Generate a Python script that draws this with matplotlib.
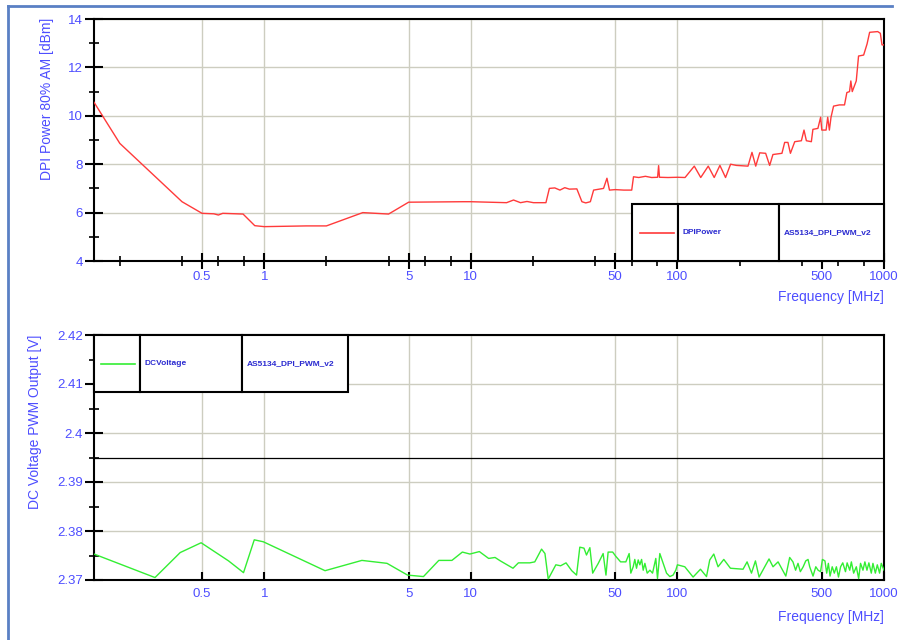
import matplotlib
matplotlib.use("Agg")
import matplotlib.pyplot as plt
from matplotlib.ticker import FixedLocator, FixedFormatter, NullFormatter
from matplotlib.lines import Line2D
from matplotlib.patches import Rectangle

plt.rcParams['font.family'] = ['Liberation Sans', 'DejaVu Sans']

# ---- measured data -------------------------------------------------------
power_freq = [0.15, 0.2, 0.4, 0.5, 0.57, 0.6, 0.63, 0.79, 0.9, 1.0, 1.6, 2.0,
              3.0, 4.0, 5.0, 9.2, 10, 14.9, 16.1, 17.4, 18.7, 20.1, 23.1, 24.0,
              25.5, 27, 28.5, 30, 32.6, 34.5, 36, 37.9, 39.3, 43.9, 45.6, 46.9,
              50, 55, 60.1, 61.3, 65, 70, 75, 80.2, 81.1, 81.9, 90, 100, 108.9,
              120.7, 129.7, 141, 150.7, 160.6, 171, 180.9, 193, 219.6, 229.6,
              239.4, 250.3, 267.4, 279.6, 290, 320.6, 330.5, 342.8, 352.4,
              369.8, 398.2, 410, 421, 445, 452.8, 478.7, 493.5, 500, 524.5, 534,
              544, 554, 570, 608, 644, 661, 681, 691, 702, 734, 753, 797, 828,
              852, 932, 960, 978, 1000]
power_dbm = [10.56, 8.86, 6.45, 5.97, 5.95, 5.90, 5.97, 5.94, 5.46, 5.42, 5.45,
             5.45, 6.00, 5.94, 6.43, 6.45, 6.45, 6.41, 6.52, 6.41, 6.46, 6.41,
             6.41, 7.00, 7.02, 6.93, 7.03, 6.97, 6.98, 6.45, 6.40, 6.45, 6.93,
             7.00, 7.42, 6.93, 6.95, 6.93, 6.93, 7.48, 7.45, 7.50, 7.45, 7.46,
             7.94, 7.46, 7.45, 7.46, 7.45, 7.92, 7.45, 7.92, 7.45, 7.95, 7.45,
             8.00, 7.95, 7.92, 8.49, 7.92, 8.47, 8.45, 7.95, 8.40, 8.45, 8.90,
             8.90, 8.45, 8.93, 8.97, 9.41, 8.97, 8.93, 9.44, 9.48, 9.94, 9.41,
             9.41, 9.94, 9.41, 9.94, 10.40, 10.45, 10.45, 10.96, 11.00, 11.44,
             11.00, 11.44, 12.47, 12.51, 12.97, 13.45, 13.48, 13.41, 12.93,
             12.93]

volt_freq = [0.15, 0.296, 0.392, 0.495, 0.672, 0.794, 0.895, 0.99, 1.97, 2.97,
             3.93, 4.94, 5.9, 7.0, 8.1, 9.1, 9.9, 11.0, 12.2, 13.1, 13.9, 16.0,
             17.0, 19.3, 20.4, 22.0, 22.85, 23.7, 25.8, 27.2, 28.9, 30.8, 32.5,
             33.7, 35.3, 36.3, 37.7, 38.9, 41.4, 43.7, 45.1, 46.2, 48.6, 50.4,
             53.1, 56.3, 58.4, 59.5, 61.1, 62.2, 63.4, 64.6, 65.8, 67.1, 68.3,
             69.6, 71.4, 73.6, 75.8, 78.6, 80.1, 82.2, 85.3, 88.6, 91.9, 95.3,
             98.2, 100, 108.6, 119.1, 129.3, 138.3, 143.4, 150, 157.3, 167.7,
             180.6, 207.8, 217.4, 228.3, 238.6, 248.5, 264.5, 277.7, 290.3,
             307.1, 334.8, 349.5, 362.5, 373.3, 383.5, 393.6, 406.3, 418.0,
             428.9, 436.9, 453.4, 467.6, 479.7, 493.0, 503.4, 517.8, 528.0,
             537.9, 548.1, 561.5, 574.7, 588.3, 602.2, 616.6, 631.6, 650.9,
             663.1, 682.6, 695, 713, 734.5, 754, 770, 791, 808, 827, 845, 868,
             884, 908, 928, 952, 970, 1000]
volt_v = [2.3753, 2.3705, 2.3756, 2.3776, 2.3739, 2.3715, 2.3782, 2.3778,
          2.3719, 2.3740, 2.3734, 2.3710, 2.3707, 2.3740, 2.3740, 2.3757,
          2.3753, 2.3758, 2.3744, 2.3746, 2.3739, 2.3724, 2.3735, 2.3735,
          2.3737, 2.3763, 2.3754, 2.3702, 2.3731, 2.3729, 2.3735, 2.3719,
          2.3710, 2.3767, 2.3765, 2.3751, 2.3766, 2.3714, 2.3734, 2.3754,
          2.3710, 2.3757, 2.3757, 2.3748, 2.3737, 2.3737, 2.3754, 2.3714,
          2.3727, 2.3742, 2.3724, 2.3741, 2.3731, 2.3742, 2.3720, 2.3734,
          2.3714, 2.3720, 2.3714, 2.3744, 2.3703, 2.3754, 2.3734, 2.3714,
          2.3707, 2.3710, 2.3720, 2.3731, 2.3727, 2.3706, 2.3722, 2.3707,
          2.3741, 2.3753, 2.3727, 2.3742, 2.3724, 2.3722, 2.3737, 2.3714,
          2.3739, 2.3706, 2.3727, 2.3743, 2.3727, 2.3737, 2.3708, 2.3746,
          2.3737, 2.3720, 2.3734, 2.3717, 2.3727, 2.3739, 2.3742, 2.3727,
          2.3708, 2.3727, 2.3720, 2.3717, 2.3742, 2.3739, 2.3714, 2.3734,
          2.3708, 2.3727, 2.3714, 2.3727, 2.3706, 2.3727, 2.3735, 2.3717,
          2.3735, 2.3720, 2.3737, 2.3714, 2.3727, 2.3703, 2.3734, 2.3720,
          2.3737, 2.3720, 2.3735, 2.3714, 2.3734, 2.3714, 2.3731, 2.3714,
          2.3734, 2.3720]
volt_limit = 2.395

major_freq = [0.5, 1, 5, 10, 50, 100, 500, 1000]
major_freq_labels = ['0.5', '1', '5', '10', '50', '100', '500', '1000']
minor_freq = [0.2, 0.4, 0.6, 0.8, 2, 4, 6, 8, 20, 40, 60, 80,
              200, 400, 600, 800]
power_ticks = [4, 6, 8, 10, 12, 14]
power_minor = [5, 7, 9, 11, 13]
volt_ticks = [2.37, 2.38, 2.39, 2.40, 2.41, 2.42]
volt_tick_labels = ['2.37', '2.38', '2.39', '2.4', '2.41', '2.42']
volt_minor = [2.375, 2.385, 2.395, 2.405, 2.415]

power_name, volt_name, source_name = 'DPIPower', 'DCVoltage', 'AS5134_DPI_PWM_v2'

# ---- styling ---------------------------------------------------------------
W, H = 902, 640
BLUE = '#4d4dff'
LEG_BLUE = '#2a2ad0'
GRID = '#cdcdc0'
RED = '#ff3a3a'
GREEN = '#33ee33'

fig = plt.figure(figsize=(W / 100, H / 100), dpi=100)
fig.patch.set_facecolor('white')


def px_axes(left, top, right, bottom):
    return fig.add_axes([left / W, 1 - bottom / H, (right - left) / W,
                         (bottom - top) / H])


ax1 = px_axes(94, 19, 884, 261)
ax2 = px_axes(94, 335, 884, 580)


def style_axes(ax, yticks, ylabels, yminor, ylim, inner_xticks):
    ax.set_xscale('log')
    ax.set_xlim(0.15, 1000)
    ax.set_ylim(*ylim)
    ax.xaxis.set_major_locator(FixedLocator(major_freq))
    ax.xaxis.set_major_formatter(FixedFormatter(major_freq_labels))
    if inner_xticks:
        ax.xaxis.set_minor_locator(FixedLocator([]))
        ax.tick_params(axis='x', which='major', direction='in', length=6,
                       width=1.5, pad=6, labelsize=9.5, labelcolor=BLUE)
    else:
        ax.xaxis.set_minor_locator(FixedLocator(minor_freq))
        ax.tick_params(axis='x', which='major', direction='inout', length=12,
                       width=1.5, pad=1, labelsize=9.5, labelcolor=BLUE)
        ax.tick_params(axis='x', which='minor', direction='inout', length=6.5,
                       width=1.2)
    ax.xaxis.set_minor_formatter(NullFormatter())
    ax.yaxis.set_major_locator(FixedLocator(yticks))
    ax.yaxis.set_major_formatter(FixedFormatter(ylabels))
    ax.yaxis.set_minor_locator(FixedLocator(yminor))
    ax.tick_params(axis='y', which='major', direction='inout', length=13,
                   width=1.5, pad=1.5, labelsize=9.5, labelcolor=BLUE)
    ax.tick_params(axis='y', which='minor', direction='inout', length=6.5,
                   width=1.2)
    for s in ax.spines.values():
        s.set_linewidth(1.5)
        s.set_color('black')
    ax.grid(True, which='major', axis='both', color=GRID, linewidth=1.0,
            zorder=0)
    ax.set_axisbelow(True)


def legend_table(ax, cells, y0, y1, color, name, sample):
    (c0, c1, c2, c3) = cells
    for a, b in ((c0, c1), (c1, c2), (c2, c3)):
        ax.add_patch(Rectangle((a, y0), b - a, y1 - y0, transform=ax.transAxes,
                               facecolor='white', edgecolor='black',
                               linewidth=1.5, zorder=6, clip_on=False))
    ym = (y0 + y1) / 2
    ax.add_line(Line2D(sample, [ym, ym], transform=ax.transAxes, color=color,
                       linewidth=1.2, zorder=7, clip_on=False))
    pad = 0.006
    ax.text(c1 + pad, ym, name, transform=ax.transAxes, ha='left',
            va='center', fontsize=6, fontweight='bold', color=LEG_BLUE,
            zorder=8)
    ax.text(c2 + pad, ym, source_name, transform=ax.transAxes, ha='left',
            va='center', fontsize=6, fontweight='bold', color=LEG_BLUE,
            zorder=8)


# ---- upper panel: DPI power -------------------------------------------------
style_axes(ax1, power_ticks, [str(t) for t in power_ticks], power_minor,
           (4, 14), inner_xticks=False)
ax1.plot(power_freq, power_dbm, color=RED, linewidth=1.0, zorder=3)


def fx(px):
    return (px - 94) / 790


legend_table(ax1, (fx(632), fx(678), fx(779), 1.0), 0.0, (261 - 204) / 242,
             RED, power_name, (fx(640), fx(674)))

# ---- lower panel: DC voltage ------------------------------------------------
style_axes(ax2, volt_ticks, volt_tick_labels, volt_minor, (2.37, 2.42),
           inner_xticks=True)
ax2.plot(volt_freq, volt_v, color=GREEN, linewidth=1.0, zorder=3)
ax2.axhline(volt_limit, color='black', linewidth=0.9, zorder=2)
legend_table(ax2, (0.0, fx(140), fx(242), fx(348)), 1 - 57 / 245, 1.0,
             GREEN, volt_name, (fx(101), fx(135)))

# ---- axis titles ------------------------------------------------------------
fig.text(47 / W, 1 - 18 / H, 'DPI Power 80% AM [dBm]', rotation=90,
         ha='center', va='top', fontsize=10, color=BLUE)
fig.text(35 / W, 1 - 335 / H, 'DC Voltage PWM Output [V]', rotation=90,
         ha='center', va='top', fontsize=10, color=BLUE)
fig.text(884 / W, 1 - 297 / H, 'Frequency [MHz]', ha='right', va='center',
         fontsize=10, color=BLUE)
fig.text(884 / W, 1 - 617 / H, 'Frequency [MHz]', ha='right', va='center',
         fontsize=10, color=BLUE)

# ---- window frame -----------------------------------------------------------
fig.add_artist(Line2D([8 / W, 892 / W], [1 - 6 / H, 1 - 6 / H],
                      transform=fig.transFigure, color='#5a80c4', linewidth=2))
fig.add_artist(Line2D([8 / W, 8 / W], [1 - 6 / H, 0],
                      transform=fig.transFigure, color='#5a80c4', linewidth=2))

fig.savefig('out.png', dpi=100, facecolor='white')
